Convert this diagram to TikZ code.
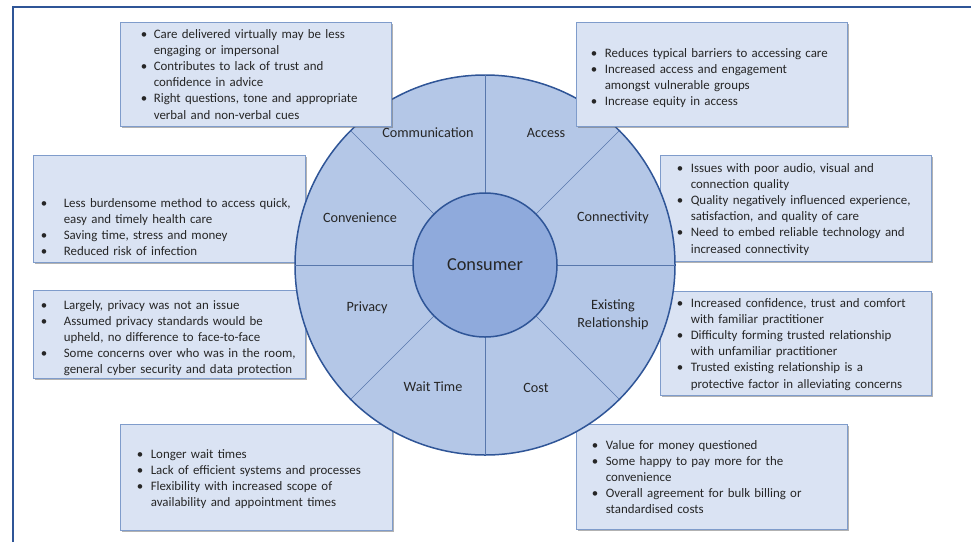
\documentclass[tikz,border=0pt]{standalone}
\usepackage{fontspec}
\setmainfont{Carlito}
\usetikzlibrary{shadows,positioning}

\definecolor{ringblue}{HTML}{B4C7E7}
\definecolor{hubblue}{HTML}{8FAADC}
\definecolor{edgeblue}{HTML}{2F5597}
\definecolor{boxfill}{HTML}{DAE3F3}
\definecolor{boxline}{HTML}{7F9CCB}

\tikzset{
  infobox/.style={draw=boxline, fill=boxfill, line width=0.8pt, inner sep=0pt,
    drop shadow={shadow xshift=2pt, shadow yshift=-2pt, opacity=0.5, fill=black!60}},
  infotext/.style={anchor=base west, inner sep=0pt, text width=270pt, align=left,
    text=black!85, font=\fontsize{12.9}{16.2}\selectfont},
  seglabel/.style={align=center, text=black!85, font=\fontsize{14.2}{17.7}\selectfont},
  spoke/.style={edgeblue!80, line width=0.6pt},
}

% bullet paragraph with hanging indent, optional gap before the text
\newcommand\bitem[2][14pt]{\noindent\hangindent=#1\hangafter=1%
  \hbox to #1{\textbullet\hfil}#2\par}

\begin{document}
\begin{tikzpicture}[x=1pt, y=-1pt]
  \useasboundingbox (0,0) rectangle (971,542);

  % frame
  \draw[edgeblue, line width=2pt] (13,542) -- (13,6.5) -- (971,6.5);

  % side and bottom boxes (under the ring)
  \node[infobox, minimum width=272pt, minimum height=107pt] (convbox) at (169,208.5) {};
  \node[infobox, minimum width=272pt, minimum height=88pt]  (privbox) at (169,334) {};
  \node[infobox, minimum width=271pt, minimum height=106pt] (connbox) at (795.5,208) {};
  \node[infobox, minimum width=271pt, minimum height=104pt] (relbox)  at (795.5,343) {};
  \node[infobox, minimum width=272pt, minimum height=106pt] (waitbox) at (256,477) {};
  \node[infobox, minimum width=271pt, minimum height=105pt] (costbox) at (711.5,476.5) {};

  \node[infotext] (convtext) at ([xshift=8pt, yshift=-52.5pt]convbox.north west) {%
    \bitem[23pt]{Less burdensome method to access quick,\newline easy and timely health care}
    \bitem[23pt]{Saving time, stress and money}
    \bitem[23pt]{Reduced risk of infection}};
  \node[infotext] (privtext) at ([xshift=8pt, yshift=-19.5pt]privbox.north west) {%
    \bitem[23pt]{Largely, privacy was not an issue}
    \bitem[23pt]{Assumed privacy standards would be\newline upheld, no difference to face-to-face}
    \bitem[23pt]{Some concerns over who was in the room,\newline general cyber security and data protection}};
  \node[infotext] (conntext) at ([xshift=17pt, yshift=-17.5pt]connbox.north west) {%
    \bitem{Issues with poor audio, visual and\newline connection quality}
    \bitem{Quality negatively influenced experience,\newline satisfaction, and quality of care}
    \bitem{Need to embed reliable technology and\newline increased connectivity}};
  \node[infotext] (reltext) at ([xshift=17pt, yshift=-16.5pt]relbox.north west) {%
    \bitem{Increased confidence, trust and comfort\newline with familiar practitioner}
    \bitem{Difficulty forming trusted relationship\newline with unfamiliar practitioner}
    \bitem{Trusted existing relationship is a\newline protective factor in alleviating concerns}};
  \node[infotext] (waittext) at ([xshift=17pt, yshift=-34.5pt]waitbox.north west) {%
    \bitem{Longer wait times}
    \bitem{Lack of efficient systems and processes}
    \bitem{Flexibility with increased scope of\newline availability and appointment times}};
  \node[infotext] (costtext) at ([xshift=16pt, yshift=-25.5pt]costbox.north west) {%
    \bitem{Value for money questioned}
    \bitem{Some happy to pay more for the\newline convenience}
    \bitem{Overall agreement for bulk billing or\newline standardised costs}};

  % ring of themes
  \coordinate (hub) at (485,265);
  \draw[edgeblue, line width=1.5pt, fill=ringblue] (hub) circle[radius=190];
  \foreach \a in {0,45,...,315}
    \draw[spoke, shift={(hub)}] (\a:72) -- (\a:190);
  \node[circle, draw=edgeblue, line width=1.5pt, fill=hubblue, minimum size=144pt,
    inner sep=0pt, text=black!85, font=\fontsize{18.3}{22}\selectfont] (consumer) at (hub) {Consumer};

  \node[seglabel] (comm) at (428,133) {Communication};
  \node[seglabel] (acc)  at (546,133) {Access};
  \node[seglabel] (conv) at (360,218) {Convenience};
  \node[seglabel] (conn) at (613,218) {Connectivity};
  \node[seglabel] (priv) at (367,308) {Privacy};
  \node[seglabel] (rel)  at (613,315) {Existing\\Relationship};
  \node[seglabel] (wait) at (433,387) {Wait Time};
  \node[seglabel] (cost) at (536,388) {Cost};

  % top boxes (over the ring)
  \node[infobox, minimum width=271pt, minimum height=104pt] (commbox) at (255.5,74) {};
  \node[infobox, minimum width=271pt, minimum height=104pt] (accbox)  at (711.5,74) {};

  \node[infotext] (commtext) at ([xshift=21pt, yshift=-16.5pt]commbox.north west) {%
    \bitem[13pt]{Care delivered virtually may be less\newline engaging or impersonal}
    \bitem[13pt]{Contributes to lack of trust and\newline confidence in advice}
    \bitem[13pt]{Right questions, tone and appropriate\newline verbal and non-verbal cues}};
  \node[infotext] (acctext) at ([xshift=15pt, yshift=-35.5pt]accbox.north west) {%
    \bitem{Reduces typical barriers to accessing care}
    \bitem{Increased access and engagement\newline amongst vulnerable groups}
    \bitem{Increase equity in access}};
\end{tikzpicture}
\end{document}
